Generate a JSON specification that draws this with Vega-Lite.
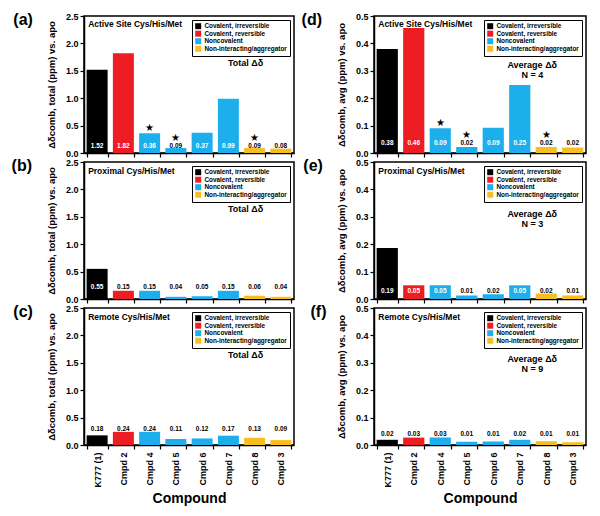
{
  "$schema": "https://vega.github.io/schema/vega-lite/v6.json",
  "padding": {"left": 10, "top": 11, "right": 5, "bottom": 5},
  "background": "white",
  "datasets": {
    "bars": [
      {"panel": "a", "compound": "K777 (1)", "category": "Covalent, irreversible", "value": 1.52},
      {"panel": "a", "compound": "Cmpd 2", "category": "Covalent, reversible", "value": 1.82},
      {"panel": "a", "compound": "Cmpd 4", "category": "Noncovalent", "value": 0.36, "star": true},
      {"panel": "a", "compound": "Cmpd 5", "category": "Noncovalent", "value": 0.09, "star": true},
      {"panel": "a", "compound": "Cmpd 6", "category": "Noncovalent", "value": 0.37},
      {"panel": "a", "compound": "Cmpd 7", "category": "Noncovalent", "value": 0.99},
      {"panel": "a", "compound": "Cmpd 8", "category": "Non-interacting/aggregator", "value": 0.09, "star": true},
      {"panel": "a", "compound": "Cmpd 3", "category": "Non-interacting/aggregator", "value": 0.08},
      {"panel": "b", "compound": "K777 (1)", "category": "Covalent, irreversible", "value": 0.55},
      {"panel": "b", "compound": "Cmpd 2", "category": "Covalent, reversible", "value": 0.15},
      {"panel": "b", "compound": "Cmpd 4", "category": "Noncovalent", "value": 0.15},
      {"panel": "b", "compound": "Cmpd 5", "category": "Noncovalent", "value": 0.04},
      {"panel": "b", "compound": "Cmpd 6", "category": "Noncovalent", "value": 0.05},
      {"panel": "b", "compound": "Cmpd 7", "category": "Noncovalent", "value": 0.15},
      {"panel": "b", "compound": "Cmpd 8", "category": "Non-interacting/aggregator", "value": 0.06},
      {"panel": "b", "compound": "Cmpd 3", "category": "Non-interacting/aggregator", "value": 0.04},
      {"panel": "c", "compound": "K777 (1)", "category": "Covalent, irreversible", "value": 0.176},
      {"panel": "c", "compound": "Cmpd 2", "category": "Covalent, reversible", "value": 0.24},
      {"panel": "c", "compound": "Cmpd 4", "category": "Noncovalent", "value": 0.24},
      {"panel": "c", "compound": "Cmpd 5", "category": "Noncovalent", "value": 0.11},
      {"panel": "c", "compound": "Cmpd 6", "category": "Noncovalent", "value": 0.12},
      {"panel": "c", "compound": "Cmpd 7", "category": "Noncovalent", "value": 0.17},
      {"panel": "c", "compound": "Cmpd 8", "category": "Non-interacting/aggregator", "value": 0.13},
      {"panel": "c", "compound": "Cmpd 3", "category": "Non-interacting/aggregator", "value": 0.09},
      {"panel": "d", "compound": "K777 (1)", "category": "Covalent, irreversible", "value": 0.38},
      {"panel": "d", "compound": "Cmpd 2", "category": "Covalent, reversible", "value": 0.456},
      {"panel": "d", "compound": "Cmpd 4", "category": "Noncovalent", "value": 0.09, "star": true},
      {"panel": "d", "compound": "Cmpd 5", "category": "Noncovalent", "value": 0.022, "star": true},
      {"panel": "d", "compound": "Cmpd 6", "category": "Noncovalent", "value": 0.092},
      {"panel": "d", "compound": "Cmpd 7", "category": "Noncovalent", "value": 0.248},
      {"panel": "d", "compound": "Cmpd 8", "category": "Non-interacting/aggregator", "value": 0.022, "star": true},
      {"panel": "d", "compound": "Cmpd 3", "category": "Non-interacting/aggregator", "value": 0.02},
      {"panel": "e", "compound": "K777 (1)", "category": "Covalent, irreversible", "value": 0.186},
      {"panel": "e", "compound": "Cmpd 2", "category": "Covalent, reversible", "value": 0.05},
      {"panel": "e", "compound": "Cmpd 4", "category": "Noncovalent", "value": 0.05},
      {"panel": "e", "compound": "Cmpd 5", "category": "Noncovalent", "value": 0.013},
      {"panel": "e", "compound": "Cmpd 6", "category": "Noncovalent", "value": 0.017},
      {"panel": "e", "compound": "Cmpd 7", "category": "Noncovalent", "value": 0.05},
      {"panel": "e", "compound": "Cmpd 8", "category": "Non-interacting/aggregator", "value": 0.02},
      {"panel": "e", "compound": "Cmpd 3", "category": "Non-interacting/aggregator", "value": 0.013},
      {"panel": "f", "compound": "K777 (1)", "category": "Covalent, irreversible", "value": 0.019},
      {"panel": "f", "compound": "Cmpd 2", "category": "Covalent, reversible", "value": 0.027},
      {"panel": "f", "compound": "Cmpd 4", "category": "Noncovalent", "value": 0.027},
      {"panel": "f", "compound": "Cmpd 5", "category": "Noncovalent", "value": 0.012},
      {"panel": "f", "compound": "Cmpd 6", "category": "Noncovalent", "value": 0.013},
      {"panel": "f", "compound": "Cmpd 7", "category": "Noncovalent", "value": 0.019},
      {"panel": "f", "compound": "Cmpd 8", "category": "Non-interacting/aggregator", "value": 0.014},
      {"panel": "f", "compound": "Cmpd 3", "category": "Non-interacting/aggregator", "value": 0.01}
    ]
  },
  "columns": 2,
  "spacing": {"row": 9, "column": 80},
  "bounds": "flush",
  "resolve": {"legend": {"color": "independent"}},
  "concat": [
    {
      "width": 210, "height": 137,
      "title": "(a)",
      "data": {"name": "bars"},
      "transform": [{"filter": "datum.panel === 'a'"}],
      "encoding": {
        "x": {"field": "compound", "type": "nominal", "sort": ["K777 (1)", "Cmpd 2", "Cmpd 4", "Cmpd 5", "Cmpd 6", "Cmpd 7", "Cmpd 8", "Cmpd 3"],
              "scale": {"paddingInner": 0.2, "paddingOuter": 0.1},
              "axis": {"labels": false, "title": null, "tickBand": "extent"}},
        "y": {"field": "value", "type": "quantitative", "scale": {"domain": [0, 2.5]},
              "axis": {"values": [0, 0.5, 1, 1.5, 2, 2.5], "format": ".1f", "title": "Δδcomb, total (ppm) vs. apo"}}
      },
      "layer": [
        {"mark": {"type": "bar"},
         "encoding": {"color": {"field": "category", "type": "nominal", "legend": {"title": null, "strokeColor": "black"},
           "scale": {"domain": ["Covalent, irreversible", "Covalent, reversible", "Noncovalent", "Non-interacting/aggregator"], "range": ["#000000", "#EE1D23", "#1CAFEC", "#F6BE1E"]}}}},
        {"mark": {"type": "text", "fontSize": 6.5, "fontWeight": "bold", "baseline": "middle"},
         "encoding": {"y": {"datum": 0.13}, "text": {"field": "value", "type": "quantitative", "format": ".2f"},
           "color": {"condition": {"test": "datum.value > 0.2", "value": "white"}, "value": "black"}}},
        {"transform": [{"filter": "datum.star && datum.value > 0.2"}],
         "mark": {"type": "text", "text": "★", "fontSize": 10, "baseline": "middle", "dy": -5, "color": "black"},
         "encoding": {}},
        {"transform": [{"filter": "datum.star && datum.value <= 0.2"}],
         "mark": {"type": "text", "text": "★", "fontSize": 10, "baseline": "middle", "dy": -8, "color": "black"},
         "encoding": {"y": {"datum": 0.13}}},
        {"transform": [{"filter": "datum.compound === 'K777 (1)'"}],
         "mark": {"type": "text", "text": "Active Site Cys/His/Met", "align": "left", "baseline": "middle", "fontSize": 8.5, "fontWeight": "bold", "dx": -9, "color": "black"},
         "encoding": {"y": {"datum": 2.35}}},
        {"transform": [{"filter": "datum.compound === 'Cmpd 8'"}],
         "mark": {"type": "text", "text": "Total Δδ", "align": "center", "baseline": "middle", "fontSize": 9, "fontWeight": "bold", "dx": -9, "color": "black"},
         "encoding": {"y": {"datum": 1.64}}}
      ]
    },
    {
      "width": 212, "height": 137,
      "title": "(d)",
      "data": {"name": "bars"},
      "transform": [{"filter": "datum.panel === 'd'"}],
      "encoding": {
        "x": {"field": "compound", "type": "nominal", "sort": ["K777 (1)", "Cmpd 2", "Cmpd 4", "Cmpd 5", "Cmpd 6", "Cmpd 7", "Cmpd 8", "Cmpd 3"],
              "scale": {"paddingInner": 0.2, "paddingOuter": 0.1},
              "axis": {"labels": false, "title": null, "tickBand": "extent"}},
        "y": {"field": "value", "type": "quantitative", "scale": {"domain": [0, 0.5]},
              "axis": {"values": [0, 0.1, 0.2, 0.3, 0.4, 0.5], "format": ".1f", "title": "Δδcomb, avg (ppm) vs. apo"}}
      },
      "layer": [
        {"mark": {"type": "bar"},
         "encoding": {"color": {"field": "category", "type": "nominal", "legend": {"title": null, "strokeColor": "black"},
           "scale": {"domain": ["Covalent, irreversible", "Covalent, reversible", "Noncovalent", "Non-interacting/aggregator"], "range": ["#000000", "#EE1D23", "#1CAFEC", "#F6BE1E"]}}}},
        {"mark": {"type": "text", "fontSize": 6.5, "fontWeight": "bold", "baseline": "middle"},
         "encoding": {"y": {"datum": 0.037}, "text": {"field": "value", "type": "quantitative", "format": ".2f"},
           "color": {"condition": {"test": "datum.value > 0.05", "value": "white"}, "value": "black"}}},
        {"transform": [{"filter": "datum.star && datum.value > 0.05"}],
         "mark": {"type": "text", "text": "★", "fontSize": 10, "baseline": "middle", "dy": -5, "color": "black"},
         "encoding": {}},
        {"transform": [{"filter": "datum.star && datum.value <= 0.05"}],
         "mark": {"type": "text", "text": "★", "fontSize": 10, "baseline": "middle", "dy": -8, "color": "black"},
         "encoding": {"y": {"datum": 0.037}}},
        {"transform": [{"filter": "datum.compound === 'K777 (1)'"}],
         "mark": {"type": "text", "text": "Active Site Cys/His/Met", "align": "left", "baseline": "middle", "fontSize": 8.5, "fontWeight": "bold", "dx": -9, "color": "black"},
         "encoding": {"y": {"datum": 0.47}}},
        {"transform": [{"filter": "datum.compound === 'Cmpd 8'"}],
         "mark": {"type": "text", "text": ["Average Δδ", "N = 4"], "align": "center", "baseline": "middle", "fontSize": 9, "fontWeight": "bold", "lineHeight": 10, "dx": -14, "color": "black"},
         "encoding": {"y": {"datum": 0.32}}}
      ]
    },
    {
      "width": 210, "height": 137,
      "title": "(b)",
      "data": {"name": "bars"},
      "transform": [{"filter": "datum.panel === 'b'"}],
      "encoding": {
        "x": {"field": "compound", "type": "nominal", "sort": ["K777 (1)", "Cmpd 2", "Cmpd 4", "Cmpd 5", "Cmpd 6", "Cmpd 7", "Cmpd 8", "Cmpd 3"],
              "scale": {"paddingInner": 0.2, "paddingOuter": 0.1},
              "axis": {"labels": false, "title": null, "tickBand": "extent"}},
        "y": {"field": "value", "type": "quantitative", "scale": {"domain": [0, 2.5]},
              "axis": {"values": [0, 0.5, 1, 1.5, 2, 2.5], "format": ".1f", "title": "Δδcomb, total (ppm) vs. apo"}}
      },
      "layer": [
        {"mark": {"type": "bar"},
         "encoding": {"color": {"field": "category", "type": "nominal", "legend": {"title": null, "strokeColor": "black"},
           "scale": {"domain": ["Covalent, irreversible", "Covalent, reversible", "Noncovalent", "Non-interacting/aggregator"], "range": ["#000000", "#EE1D23", "#1CAFEC", "#F6BE1E"]}}}},
        {"mark": {"type": "text", "fontSize": 6.5, "fontWeight": "bold", "baseline": "middle"},
         "encoding": {"y": {"datum": 0.22}, "text": {"field": "value", "type": "quantitative", "format": ".2f"},
           "color": {"condition": {"test": "datum.value > 0.3", "value": "white"}, "value": "black"}}},
        {"transform": [{"filter": "datum.compound === 'K777 (1)'"}],
         "mark": {"type": "text", "text": "Proximal Cys/His/Met", "align": "left", "baseline": "middle", "fontSize": 8.5, "fontWeight": "bold", "dx": -9, "color": "black"},
         "encoding": {"y": {"datum": 2.34}}},
        {"transform": [{"filter": "datum.compound === 'Cmpd 8'"}],
         "mark": {"type": "text", "text": "Total Δδ", "align": "center", "baseline": "middle", "fontSize": 9, "fontWeight": "bold", "dx": -9, "color": "black"},
         "encoding": {"y": {"datum": 1.64}}}
      ]
    },
    {
      "width": 212, "height": 137,
      "title": "(e)",
      "data": {"name": "bars"},
      "transform": [{"filter": "datum.panel === 'e'"}],
      "encoding": {
        "x": {"field": "compound", "type": "nominal", "sort": ["K777 (1)", "Cmpd 2", "Cmpd 4", "Cmpd 5", "Cmpd 6", "Cmpd 7", "Cmpd 8", "Cmpd 3"],
              "scale": {"paddingInner": 0.2, "paddingOuter": 0.1},
              "axis": {"labels": false, "title": null, "tickBand": "extent"}},
        "y": {"field": "value", "type": "quantitative", "scale": {"domain": [0, 0.5]},
              "axis": {"values": [0, 0.1, 0.2, 0.3, 0.4, 0.5], "format": ".1f", "title": "Δδcomb, avg (ppm) vs. apo"}}
      },
      "layer": [
        {"mark": {"type": "bar"},
         "encoding": {"color": {"field": "category", "type": "nominal", "legend": {"title": null, "strokeColor": "black"},
           "scale": {"domain": ["Covalent, irreversible", "Covalent, reversible", "Noncovalent", "Non-interacting/aggregator"], "range": ["#000000", "#EE1D23", "#1CAFEC", "#F6BE1E"]}}}},
        {"mark": {"type": "text", "fontSize": 6.5, "fontWeight": "bold", "baseline": "middle"},
         "encoding": {"y": {"datum": 0.03}, "text": {"field": "value", "type": "quantitative", "format": ".2f"},
           "color": {"condition": {"test": "datum.value > 0.04", "value": "white"}, "value": "black"}}},
        {"transform": [{"filter": "datum.compound === 'K777 (1)'"}],
         "mark": {"type": "text", "text": "Proximal Cys/His/Met", "align": "left", "baseline": "middle", "fontSize": 8.5, "fontWeight": "bold", "dx": -9, "color": "black"},
         "encoding": {"y": {"datum": 0.468}}},
        {"transform": [{"filter": "datum.compound === 'Cmpd 8'"}],
         "mark": {"type": "text", "text": ["Average Δδ", "N = 3"], "align": "center", "baseline": "middle", "fontSize": 9, "fontWeight": "bold", "lineHeight": 10, "dx": -14, "color": "black"},
         "encoding": {"y": {"datum": 0.31}}}
      ]
    },
    {
      "width": 210, "height": 137,
      "title": "(c)",
      "data": {"name": "bars"},
      "transform": [{"filter": "datum.panel === 'c'"}],
      "encoding": {
        "x": {"field": "compound", "type": "nominal", "sort": ["K777 (1)", "Cmpd 2", "Cmpd 4", "Cmpd 5", "Cmpd 6", "Cmpd 7", "Cmpd 8", "Cmpd 3"],
              "scale": {"paddingInner": 0.2, "paddingOuter": 0.1},
              "axis": {"title": "Compound", "tickBand": "extent", "labelAngle": -90, "labelAlign": "right", "labelBaseline": "middle", "labelFontSize": 9, "labelPadding": 3, "titleFontSize": 14, "titlePadding": 4}},
        "y": {"field": "value", "type": "quantitative", "scale": {"domain": [0, 2.5]},
              "axis": {"values": [0, 0.5, 1, 1.5, 2, 2.5], "format": ".1f", "title": "Δδcomb, total (ppm) vs. apo"}}
      },
      "layer": [
        {"mark": {"type": "bar"},
         "encoding": {"color": {"field": "category", "type": "nominal", "legend": {"title": null, "strokeColor": "black"},
           "scale": {"domain": ["Covalent, irreversible", "Covalent, reversible", "Noncovalent", "Non-interacting/aggregator"], "range": ["#000000", "#EE1D23", "#1CAFEC", "#F6BE1E"]}}}},
        {"mark": {"type": "text", "fontSize": 6.5, "fontWeight": "bold", "baseline": "middle", "color": "black"},
         "encoding": {"y": {"datum": 0.29}, "text": {"field": "value", "type": "quantitative", "format": ".2f"}}},
        {"transform": [{"filter": "datum.compound === 'K777 (1)'"}],
         "mark": {"type": "text", "text": "Remote Cys/His/Met", "align": "left", "baseline": "middle", "fontSize": 8.5, "fontWeight": "bold", "dx": -9, "color": "black"},
         "encoding": {"y": {"datum": 2.34}}},
        {"transform": [{"filter": "datum.compound === 'Cmpd 8'"}],
         "mark": {"type": "text", "text": "Total Δδ", "align": "center", "baseline": "middle", "fontSize": 9, "fontWeight": "bold", "dx": -9, "color": "black"},
         "encoding": {"y": {"datum": 1.64}}}
      ]
    },
    {
      "width": 212, "height": 137,
      "title": "(f)",
      "data": {"name": "bars"},
      "transform": [{"filter": "datum.panel === 'f'"}],
      "encoding": {
        "x": {"field": "compound", "type": "nominal", "sort": ["K777 (1)", "Cmpd 2", "Cmpd 4", "Cmpd 5", "Cmpd 6", "Cmpd 7", "Cmpd 8", "Cmpd 3"],
              "scale": {"paddingInner": 0.2, "paddingOuter": 0.1},
              "axis": {"title": "Compound", "tickBand": "extent", "labelAngle": -90, "labelAlign": "right", "labelBaseline": "middle", "labelFontSize": 9, "labelPadding": 3, "titleFontSize": 14, "titlePadding": 4}},
        "y": {"field": "value", "type": "quantitative", "scale": {"domain": [0, 0.5]},
              "axis": {"values": [0, 0.1, 0.2, 0.3, 0.4, 0.5], "format": ".1f", "title": "Δδcomb, avg (ppm) vs. apo"}}
      },
      "layer": [
        {"mark": {"type": "bar"},
         "encoding": {"color": {"field": "category", "type": "nominal", "legend": {"title": null, "strokeColor": "black"},
           "scale": {"domain": ["Covalent, irreversible", "Covalent, reversible", "Noncovalent", "Non-interacting/aggregator"], "range": ["#000000", "#EE1D23", "#1CAFEC", "#F6BE1E"]}}}},
        {"mark": {"type": "text", "fontSize": 6.5, "fontWeight": "bold", "baseline": "middle", "color": "black"},
         "encoding": {"y": {"datum": 0.04}, "text": {"field": "value", "type": "quantitative", "format": ".2f"}}},
        {"transform": [{"filter": "datum.compound === 'K777 (1)'"}],
         "mark": {"type": "text", "text": "Remote Cys/His/Met", "align": "left", "baseline": "middle", "fontSize": 8.5, "fontWeight": "bold", "dx": -9, "color": "black"},
         "encoding": {"y": {"datum": 0.468}}},
        {"transform": [{"filter": "datum.compound === 'Cmpd 8'"}],
         "mark": {"type": "text", "text": ["Average Δδ", "N = 9"], "align": "center", "baseline": "middle", "fontSize": 9, "fontWeight": "bold", "lineHeight": 10, "dx": -14, "color": "black"},
         "encoding": {"y": {"datum": 0.315}}}
      ]
    }
  ],
  "config": {
    "font": "Liberation Sans",
    "view": {"stroke": "black", "strokeWidth": 1.5},
    "title": {"orient": "left", "anchor": "end", "angle": 0, "align": "right", "baseline": "top", "fontSize": 16, "fontWeight": "bold", "offset": 8, "dx": 14, "color": "black", "font": "Liberation Sans"},
    "axis": {"domainColor": "black", "domainWidth": 1.5, "tickColor": "black", "tickWidth": 1.2, "tickSize": 4, "grid": false,
             "labelColor": "black", "labelFontWeight": "bold", "labelFontSize": 9, "labelPadding": 2,
             "titleColor": "black", "titleFontWeight": "bold", "titleFontSize": 9.5, "titlePadding": 9},
    "legend": {"orient": "top-right", "offset": 4, "strokeColor": "black", "fillColor": "white", "padding": 3,
               "labelFontSize": 6.4, "labelFontWeight": "bold", "labelColor": "black", "symbolType": "square", "symbolSize": 36,
               "symbolStrokeWidth": 0, "rowPadding": 0.5, "labelLimit": 200, "labelOffset": 3}
  }
}
